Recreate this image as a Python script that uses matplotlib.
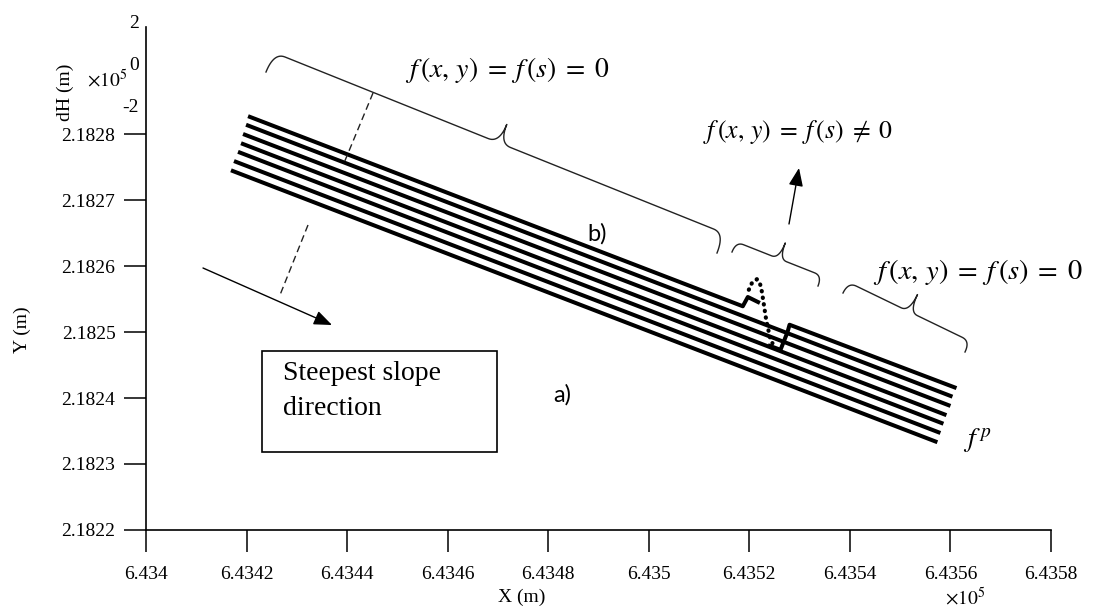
import numpy as np
import matplotlib
matplotlib.use('Agg')
import matplotlib.pyplot as plt
from matplotlib.lines import Line2D
from matplotlib.patches import Rectangle, FancyArrowPatch

plt.rcParams['font.family'] = ['Liberation Serif', 'DejaVu Serif']
plt.rcParams['mathtext.fontset'] = 'stix'

W, H = 1107, 612

# axis ticks (metres)
x_ticks = [643400, 643420, 643440, 643460, 643480, 643500, 643520, 643540, 643560, 643580]
y_ticks = [218220, 218230, 218240, 218250, 218260, 218270, 218280]
dh_ticks = [-2, 0, 2]

# seven parallel contour lines: start and end points
line_x0 = [643420.3, 643419.9, 643419.3, 643418.9, 643418.3, 643417.5, 643416.9]
line_y0 = [218282.7, 218281.4, 218280.0, 218278.6, 218277.3, 218275.9, 218274.5]
line_x1 = [643561.2, 643560.4, 643560.0, 643559.2, 643558.6, 643558.0, 643557.4]
line_y1 = [218241.5, 218240.2, 218238.8, 218237.4, 218236.1, 218234.7, 218233.3]

# first contour, disturbed part (f(s) != 0)
top_a_x = [643420.3, 643518.7, 643519.7, 643522.1]
top_a_y = [218282.7, 218253.9, 218255.3, 218254.4]
top_dot_x = [643519.9, 643520.5, 643521.5, 643522.1, 643522.5, 643522.9, 643523.3, 643523.7, 643524.1, 643524.6]
top_dot_y = [218256.4, 218257.4, 218258.0, 218257.4, 218256.1, 218254.1, 218252.1, 218250.6, 218249.2, 218248.3]
top_b_x = [643523.7, 643526.2, 643527.6, 643528.0, 643561.2]
top_b_y = [218248.0, 218247.3, 218250.0, 218251.1, 218241.5]


def fx(x):
    return x / W


def fy(y):
    return 1 - y / H


fig = plt.figure(figsize=(W / 100, H / 100), dpi=100)
ax = fig.add_axes([fx(146), fy(530), (1051 - 146) / W, (530 - 27) / H])

for i in range(1, 7):
    ax.plot([line_x0[i], line_x1[i]], [line_y0[i], line_y1[i]], color='black', lw=2.9,
            solid_capstyle='butt')
ax.plot(top_a_x, top_a_y, color='black', lw=2.9, solid_capstyle='butt')
ax.plot(top_b_x, top_b_y, color='black', lw=2.9, solid_capstyle='butt')
ax.plot(top_dot_x, top_dot_y, color='black', lw=3, linestyle=(0, (0.1, 1.5)),
        dash_capstyle='round')

ax.set_xlim(643400, 643580)
ax.set_ylim(218220, 218220 + (530 - 27) * 10 / 66)
ax.set_xticks(x_ticks)
ax.set_yticks(y_ticks)
ax.set_xticklabels([f'{v / 1e5:g}' for v in x_ticks])
ax.set_yticklabels([f'{v / 1e5:.4f}' for v in y_ticks])
for s in ['top', 'right']:
    ax.spines[s].set_visible(False)
for s in ['left', 'bottom']:
    ax.spines[s].set_linewidth(1.2)
ax.tick_params(direction='out', length=16, width=1.1, labelsize=14)
ax.tick_params(axis='x', pad=10)
ax.tick_params(axis='y', pad=6)

# small dH axis stacked on top
ax2 = fig.add_axes([fx(146), fy(130), 0.02, 120 / H])
ax2.set_ylim(-2 - 24 / 21, 2 + 12 / 21)
ax2.set_yticks(dh_ticks)
ax2.set_yticklabels([str(v) for v in dh_ticks])
ax2.set_xticks([])
ax2.patch.set_visible(False)
for s in ax2.spines.values():
    s.set_visible(False)
ax2.tick_params(axis='y', length=0, pad=5, labelsize=14)

fig.text(fx(65), fy(92), 'dH (m)', rotation=90, ha='center', va='center', fontsize=14)
fig.text(fx(87), fy(80), r'$\times10^{5}$', ha='left', va='center', fontsize=14)
fig.text(fx(22), fy(330), 'Y (m)', rotation=90, ha='center', va='center', fontsize=14)
fig.text(fx(522), fy(597), 'X (m)', ha='center', va='center', fontsize=14)
fig.text(fx(945), fy(598), r'$\times10^{5}$', ha='left', va='center', fontsize=14)


def brace(a, b, d, t, r):
    a = np.array(a, float)
    b = np.array(b, float)
    L = np.hypot(*(b - a))
    u = (b - a) / L
    n = np.array([u[1], -u[0]])

    def q(p0, p1, p2, k=14):
        s = np.linspace(0, 1, k)[:, None]
        p0, p1, p2 = map(np.array, (p0, p1, p2))
        return (1 - s) ** 2 * p0 + 2 * (1 - s) * s * p1 + s ** 2 * p2

    h = L / 2
    pts = np.vstack([
        q([0, 0], [0, d], [r, d]),
        [[h - r, d]],
        q([h - r, d], [h, d], [h, d + t]),
        q([h, d + t], [h, d], [h + r, d]),
        [[L - r, d]],
        q([L - r, d], [L, d], [L, 0]),
    ])
    xy = a + pts[:, :1] * u + pts[:, 1:] * n
    fig.add_artist(Line2D(fx(xy[:, 0]), fy(xy[:, 1]), color='#222222', lw=1.0))


brace((266, 72), (717, 253), 21, 20, 12)
brace((732, 252), (818, 286), 11, 17, 8)
brace((843, 293), (965, 352), 12, 19, 9)

eq0 = r'$f\,(x,\,y)\;=\;f\,(s)\;=\;0$'
eq1 = r'$f\,(x,\,y)\;=\;f\,(s)\;\neq\;0$'
fig.text(fx(405), fy(70), eq0, ha='left', va='center', fontsize=20)
fig.text(fx(703), fy(132), eq1, ha='left', va='center', fontsize=18.5)
fig.text(fx(873), fy(272), eq0, ha='left', va='center', fontsize=20.5)
fig.text(fx(963), fy(441), r'$f^{\,p}$', ha='left', va='center', fontsize=20)
fig.text(fx(597), fy(234), 'b)', ha='center', va='center', fontsize=17, family='Lato')
fig.text(fx(562), fy(395), 'a)', ha='center', va='center', fontsize=17, family='Lato')

# dashed normal across the contours
for (x0, y0), (x1, y1) in [((373, 93), (344, 163)), ((308, 225), (280, 295))]:
    fig.add_artist(Line2D([fx(x0), fx(x1)], [fy(y0), fy(y1)], color='#222222', lw=1.0,
                          dashes=(5, 3)))

for (x0, y0), (x1, y1) in [((203, 268), (332, 325)), ((789, 224), (799, 168))]:
    fig.add_artist(FancyArrowPatch((fx(x0), fy(y0)), (fx(x1), fy(y1)),
                                   transform=fig.transFigure,
                                   arrowstyle='-|>,head_length=0.55,head_width=0.22',
                                   mutation_scale=20, color='black', lw=1.0,
                                   shrinkA=0, shrinkB=0))

fig.add_artist(Rectangle((fx(262), fy(452)), (497 - 262) / W, (452 - 351) / H,
                         transform=fig.transFigure, fill=False, ec='black', lw=1.2))
fig.text(fx(283), fy(361), 'Steepest slope\ndirection', ha='left', va='top',
         fontsize=20, linespacing=1.55)

fig.savefig('out.png', dpi=100)
